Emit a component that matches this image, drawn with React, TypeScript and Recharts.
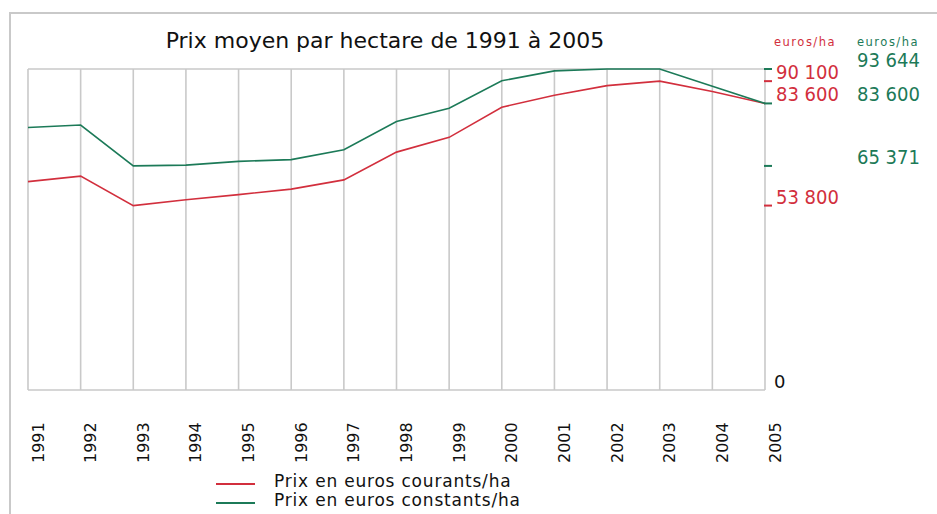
import React from "react";
import {
  LineChart,
  Line,
  XAxis,
  YAxis,
  CartesianGrid,
  ReferenceLine,
  Legend,
} from "recharts";

const years = [1991, 1992, 1993, 1994, 1995, 1996, 1997, 1998, 1999, 2000, 2001, 2002, 2003, 2004, 2005];
const courants = [60800, 62400, 53800, 55500, 57000, 58600, 61300, 69400, 73700, 82500, 86000, 88800, 90100, 87100, 83600];
const constants = [76600, 77300, 65371, 65600, 66700, 67200, 70100, 78300, 82200, 90200, 93100, 93644, 93644, 88600, 83600];

const yTicks = [0, 53800, 65371, 83600, 90100, 93644];
const tickLabelsCourants: Record<number, string> = { 53800: "53 800", 83600: "83 600", 90100: "90 100" };
const tickLabelsConstants: Record<number, string> = { 65371: "65 371", 83600: "83 600", 93644: "93 644" };
const tickDashColor: Record<number, string> = { 53800: "red", 65371: "green", 83600: "green", 90100: "red", 93644: "green" };

const title = "Prix moyen par hectare de 1991 à 2005";
const unitLabel = "euros/ha";
const seriesNames = { courants: "Prix en euros courants/ha", constants: "Prix en euros constants/ha" };

const RED = "#d22f3d";
const GREEN = "#1c7a58";
const GRID = "#c9c9c9";
const NUM_FONT = "'DejaVu Sans Condensed', 'DejaVu Sans', sans-serif";

const data = years.map((year, i) => ({ year, courants: courants[i], constants: constants[i] }));

const XTick = (props: any) => {
  const { x, y, payload } = props;
  const tx = x + 10;
  const ty = y + 73;
  return (
    <text
      x={tx}
      y={ty}
      transform={`rotate(-90 ${tx} ${ty})`}
      textAnchor="start"
      dominantBaseline="central"
      fontFamily="'DejaVu Sans', sans-serif"
      fontSize={16}
      fill="#111"
    >
      {payload.value}
    </text>
  );
};

const YTick = (props: any) => {
  const { x, y, payload } = props;
  const v = payload.value as number;
  if (v === 0) {
    return (
      <text x={x + 9} y={y - 1.7} fontFamily="'DejaVu Sans', sans-serif" fontSize={18} fill="#111">
        0
      </text>
    );
  }
  const dash = tickDashColor[v] === "red" ? RED : GREEN;
  return (
    <g>
      <line x1={x - 1} x2={x + 7} y1={y} y2={y} stroke={dash} strokeWidth={2} />
      {tickLabelsCourants[v] && (
        <text x={x + 11} y={y - 2} fontFamily={NUM_FONT} fontSize={20} fill={RED}>
          {tickLabelsCourants[v]}
        </text>
      )}
      {tickLabelsConstants[v] && (
        <text x={x + 92} y={y - 2} fontFamily={NUM_FONT} fontSize={20} fill={GREEN}>
          {tickLabelsConstants[v]}
        </text>
      )}
    </g>
  );
};

const LegendContent = () => (
  <div style={{ fontFamily: "'DejaVu Sans', sans-serif", fontSize: 17, letterSpacing: 0.8, color: "#111" }}>
    {[
      { name: seriesNames.courants, color: RED },
      { name: seriesNames.constants, color: GREEN },
    ].map((s) => (
      <div key={s.name} style={{ display: "flex", alignItems: "center", height: 19, whiteSpace: "nowrap" }}>
        <svg width={58} height={19} style={{ display: "block" }}>
          <line x1={0} x2={39} y1={12} y2={12} stroke={s.color} strokeWidth={2} />
        </svg>
        <span style={{ lineHeight: "19px" }}>{s.name}</span>
      </div>
    ))}
  </div>
);

export default function App() {
  return (
    <div
      style={{
        position: "absolute",
        left: 0,
        top: 0,
        width: 937,
        height: 514,
        overflow: "hidden",
        background: "#fff",
      }}
    >
      <div
        style={{
          position: "absolute",
          left: 9,
          top: 12,
          width: 2000,
          height: 2000,
          borderLeft: `2px solid ${GRID}`,
          borderTop: `2px solid ${GRID}`,
        }}
      />
      <svg width={937} height={70} style={{ position: "absolute", left: 0, top: 0 }}>
        <text x={385} y={48.3} textAnchor="middle" fontFamily="'DejaVu Sans', sans-serif" fontSize={22} fill="#111">
          {title}
        </text>
        <text x={774} y={45.5} fontFamily="'DejaVu Sans', sans-serif" fontSize={11.5} letterSpacing={1.5} fill={RED}>
          {unitLabel}
        </text>
        <text x={857} y={45.5} fontFamily="'DejaVu Sans', sans-serif" fontSize={11.5} letterSpacing={1.5} fill={GREEN}>
          {unitLabel}
        </text>
      </svg>
      <div style={{ position: "absolute", left: 0, top: 0 }}>
        <LineChart width={937} height={514} data={data} margin={{ top: 69, right: 0, left: 28, bottom: 0 }}>
          <CartesianGrid horizontal={false} stroke={GRID} strokeWidth={1.6} />
          <XAxis
            dataKey="year"
            type="number"
            domain={[1991, 2005]}
            ticks={years}
            interval={0}
            axisLine={false}
            tickLine={false}
            tickSize={0}
            tickMargin={0}
            height={124}
            tick={<XTick />}
          />
          <YAxis
            orientation="right"
            domain={[0, 93644]}
            ticks={yTicks}
            interval={0}
            axisLine={false}
            tickLine={false}
            tickSize={0}
            tickMargin={0}
            width={172}
            tick={<YTick />}
          />
          <ReferenceLine y={0} stroke={GRID} strokeWidth={1.6} />
          <ReferenceLine y={93644} stroke={GRID} strokeWidth={1.6} />
          <Line
            type="linear"
            dataKey="courants"
            name={seriesNames.courants}
            stroke={RED}
            strokeWidth={1.6}
            dot={false}
            isAnimationActive={false}
          />
          <Line
            type="linear"
            dataKey="constants"
            name={seriesNames.constants}
            stroke={GREEN}
            strokeWidth={1.6}
            dot={false}
            isAnimationActive={false}
          />
          <Legend
            layout="horizontal"
            verticalAlign="middle"
            align="center"
            content={<LegendContent />}
            wrapperStyle={{ position: "absolute", left: 216, top: 472, width: 330, height: 40 }}
          />
        </LineChart>
      </div>
    </div>
  );
}
